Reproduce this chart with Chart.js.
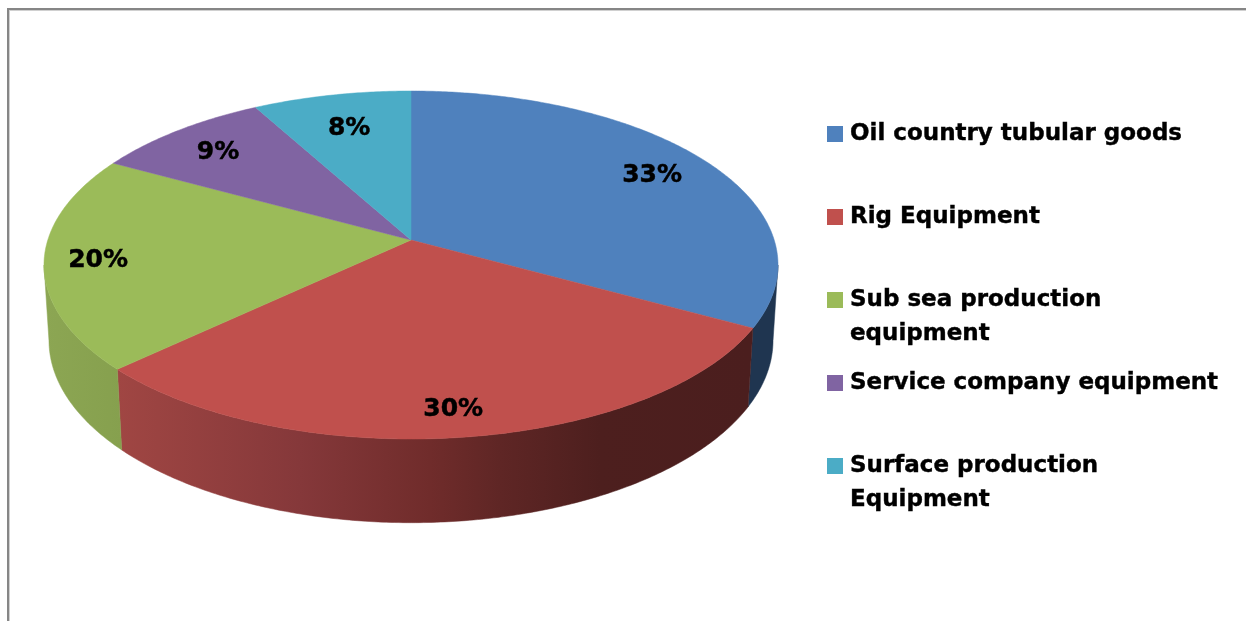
<!DOCTYPE html>
<html>
<head>
<meta charset="utf-8">
<style>
  html, body { margin: 0; padding: 0; background: #fff; overflow: hidden; }
  #wrap { position: relative; width: 1246px; height: 621px; }
</style>
<script src="https://cdn.jsdelivr.net/npm/chart.js@4/dist/chart.umd.min.js"></script>
</head>
<body>
<div id="wrap"><canvas id="chart" width="1246" height="621"></canvas></div>
<script>
// Equipment market share
const categories = [
  ['Oil country tubular goods'],
  ['Rig Equipment'],
  ['Sub sea production', 'equipment'],
  ['Service company equipment'],
  ['Surface production', 'Equipment']
];
const shares = [33, 30, 20, 9, 8];
const topColors = ['#4f81bd', '#c0504d', '#9bbb59', '#8064a2', '#4bacc6'];

// Side wall shading for each slice, as horizontal gradient stops [x, colour]
const wallStops = [
  [[700, '#1f3550'], [780, '#1f3550']],
  [[118, '#a04643'], [300, '#85383a'], [430, '#702c2b'], [500, '#5f2625'], [600, '#4d1f1e'], [750, '#4b1e1e']],
  [[44, '#8ca653'], [122, '#86a04e']],
  [[0, '#5f4a7a'], [1, '#5f4a7a']],
  [[0, '#38808f'], [1, '#38808f']]
];

// Where each percentage sits along its slice's middle radius, plus a small pixel nudge
const labelRadii = [0.81, 0.87, 0.855, 0.80, 0.757];
const labelNudges = [[2, 2], [-3, 2], [0, 2], [-3, 2], [0, 2]];
// Vertical centre of the first line of each legend entry
const legendRows = [134, 217, 300, 383, 466];

// Tilted-disc projection: unit disc (u, v) at depth h onto the page
const apex = { x: 411, y: 240 };
const view = { a: 363.2, b: 170.4, k: 0.1437, drop: 75.5, shrink: 0.0135 };

function project(r, angle, h) {
  const u = r * Math.cos(angle);
  const v = r * Math.sin(angle);
  const w = 1 - view.k * v + view.shrink * h;
  return {
    x: apex.x + view.a * u / w,
    y: apex.y + (view.b * v + view.drop * h) / w
  };
}

function traceRim(ctx, from, to, h) {
  const steps = Math.max(2, Math.ceil(Math.abs(to - from) / 0.01));
  for (let i = 0; i <= steps; i++) {
    const p = project(1, from + (to - from) * i / steps, h);
    ctx.lineTo(p.x, p.y);
  }
}

const disc3d = {
  id: 'disc3d',
  beforeDatasetDraw(chart, args) {
    const ctx = chart.ctx;
    const arcs = chart.getDatasetMeta(args.index).data;

    // Side walls run between the two points where the rim turns away from the viewer
    const nearFrom = Math.asin(view.k);
    const nearTo = Math.PI - nearFrom;
    ctx.save();
    arcs.forEach((arc, i) => {
      const from = Math.max(arc.startAngle, nearFrom);
      const to = Math.min(arc.endAngle, nearTo);
      if (to <= from) return;
      const stops = wallStops[i];
      const x0 = stops[0][0];
      const x1 = stops[stops.length - 1][0];
      const g = ctx.createLinearGradient(x0, 0, x1, 0);
      stops.forEach(s => g.addColorStop((s[0] - x0) / (x1 - x0), s[1]));
      ctx.beginPath();
      traceRim(ctx, from, to, 0);
      traceRim(ctx, to, from, 1);
      ctx.closePath();
      ctx.fillStyle = g;
      ctx.strokeStyle = g;
      ctx.lineWidth = 0.5;
      ctx.fill();
      ctx.stroke();
    });

    // Top face
    arcs.forEach((arc, i) => {
      ctx.beginPath();
      ctx.moveTo(apex.x, apex.y);
      traceRim(ctx, arc.startAngle, arc.endAngle, 0);
      ctx.closePath();
      ctx.fillStyle = topColors[i];
      ctx.strokeStyle = topColors[i];
      ctx.lineWidth = 0.5;
      ctx.fill();
      ctx.stroke();
    });

    // Percentage labels
    ctx.fillStyle = '#000';
    ctx.strokeStyle = '#000';
    ctx.lineWidth = 0.5;
    ctx.font = 'bold 25px "DejaVu Sans"';
    ctx.textAlign = 'center';
    ctx.textBaseline = 'middle';
    arcs.forEach((arc, i) => {
      const mid = (arc.startAngle + arc.endAngle) / 2;
      const p = project(labelRadii[i], mid, 0);
      const x = p.x + labelNudges[i][0];
      const y = p.y + labelNudges[i][1];
      ctx.fillText(shares[i] + '%', x, y);
      ctx.strokeText(shares[i] + '%', x, y);
    });
    ctx.restore();
    return false;
  },
  beforeDraw(chart) {
    // Partial frame along the top and left edges
    const ctx = chart.ctx;
    ctx.save();
    ctx.fillStyle = '#868686';
    ctx.fillRect(7, 8, 1239, 2);
    ctx.fillRect(7, 8, 2, 613);
    ctx.fillStyle = '#d0d0d0';
    ctx.fillRect(9, 10, 1237, 1);
    ctx.fillRect(9, 10, 1, 611);
    ctx.restore();
  },
  afterDraw(chart) {
    // Legend column
    const ctx = chart.ctx;
    ctx.save();
    ctx.font = 'bold 23px "DejaVu Sans"';
    ctx.textAlign = 'left';
    ctx.textBaseline = 'middle';
    ctx.lineWidth = 0.4;
    ctx.strokeStyle = '#000';
    categories.forEach((lines, i) => {
      ctx.fillStyle = topColors[i];
      ctx.fillRect(827, legendRows[i] - 8, 16, 16);
      ctx.fillStyle = '#000';
      lines.forEach((line, j) => {
        const y = legendRows[i] + j * 34;
        ctx.fillText(line, 850, y);
        ctx.strokeText(line, 850, y);
      });
    });
    ctx.restore();
  }
};

new Chart(document.getElementById('chart'), {
  type: 'pie',
  data: {
    labels: categories.map(c => c.join(' ')),
    datasets: [{ data: shares, backgroundColor: topColors, borderWidth: 0 }]
  },
  options: {
    responsive: false,
    animation: false,
    plugins: { legend: { display: false }, tooltip: { enabled: false } }
  },
  plugins: [disc3d]
});
</script>
</body>
</html>
